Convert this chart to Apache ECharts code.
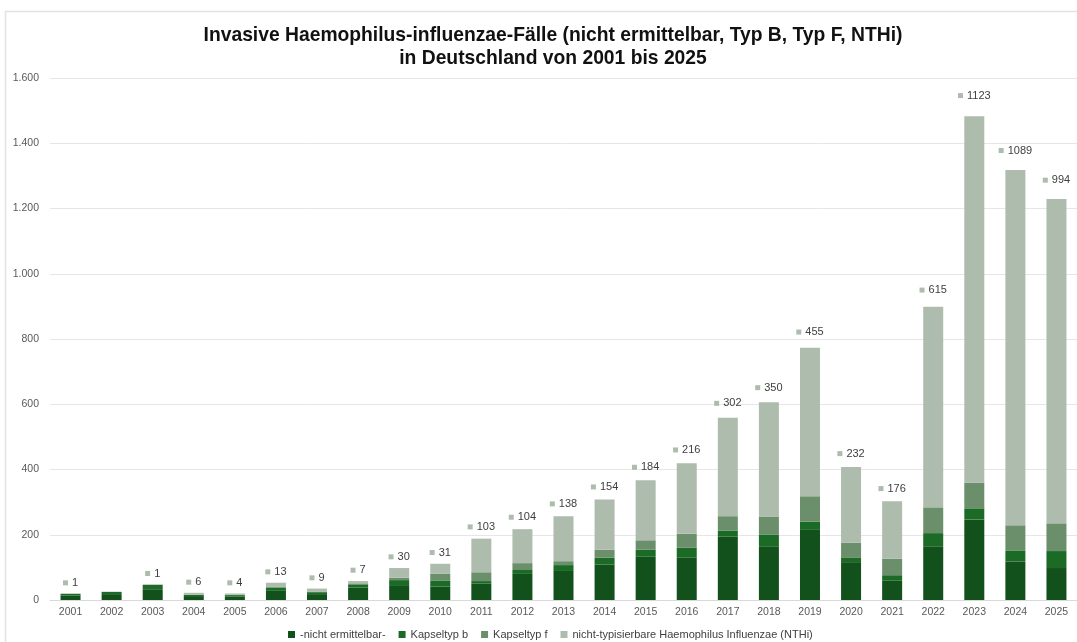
<!DOCTYPE html>
<html>
<head>
<meta charset="utf-8">
<title>Invasive Haemophilus-influenzae-Fälle</title>
<script src="https://cdn.jsdelivr.net/npm/echarts@6/dist/echarts.min.js"></script>
<style>
  html, body { margin: 0; padding: 0; background: #fff; }
  #chart { width: 1077px; height: 642px; }
</style>
</head>
<body>
<div id="chart"></div>
<script>
// Meldejahre
const years = ['2001','2002','2003','2004','2005','2006','2007','2008','2009','2010','2011','2012','2013',
  '2014','2015','2016','2017','2018','2019','2020','2021','2022','2023','2024','2025'];

// Fallzahlen je Kategorie
const nichtErmittelbar = [14, 18, 33, 12, 11, 28, 18, 38, 43, 41, 50, 80, 89, 109, 133, 130, 194, 163, 215, 116, 59, 165, 247, 118, 98];
const kapseltypB       = [5, 7, 13, 4, 4, 10, 6, 10, 18, 19, 8, 12, 18, 21, 21, 30, 18, 38, 25, 13, 17, 40, 34, 34, 52];
const kapseltypF       = [0, 0, 1, 0, 1, 2, 2, 3, 7, 20, 27, 21, 12, 24, 29, 43, 45, 55, 78, 47, 51, 79, 79, 77, 85];
const nthi             = [1, null, 1, 6, 4, 13, 9, 7, 30, 31, 103, 104, 138, 154, 184, 216, 302, 350, 455, 232, 176, 615, 1123, 1089, 994];

// Achsenteilung
const yMax = 1600;
const yStep = 200;

const seriesNames = ['-nicht ermittelbar-', 'Kapseltyp b', 'Kapseltyp f', 'nicht-typisierbare Haemophilus Influenzae (NTHi)'];
const colors = ['#12501c', '#1b6a26', '#6b8e6b', '#aebcad'];

const fmtDE = v => String(v).replace(/\B(?=(\d{3})+(?!\d))/g, '.');

// NTHi-Werte mit Beschriftung über dem Stapel; Abstand wächst leicht mit der Stapelhöhe
const nthiData = nthi.map((v, i) => {
  if (v === null) return '-';
  const total = nichtErmittelbar[i] + kapseltypB[i] + kapseltypF[i] + v;
  return { value: v, label: { distance: 4 + total * 0.0068 } };
});

const chart = echarts.init(document.getElementById('chart'), null, { renderer: 'canvas' });

const baseFont = 'Liberation Sans, Arial, Helvetica, sans-serif';

const stackSeries = [nichtErmittelbar, kapseltypB, kapseltypF].map((arr, i) => ({
  name: seriesNames[i],
  type: 'bar',
  stack: 'faelle',
  barWidth: 20,
  itemStyle: { color: colors[i] },
  data: arr
}));

stackSeries.push({
  name: seriesNames[3],
  type: 'bar',
  stack: 'faelle',
  barWidth: 20,
  itemStyle: { color: colors[3] },
  label: {
    show: true,
    position: 'top',
    formatter: p => '{k| }{s| }{v|' + p.value + '}',
    rich: {
      k: { width: 5, height: 5, lineHeight: 5, fontSize: 5, backgroundColor: colors[3], verticalAlign: 'middle' },
      s: { width: 4, fontSize: 5, verticalAlign: 'middle' },
      v: { fontSize: 11, color: '#404040', fontFamily: baseFont, verticalAlign: 'middle', lineHeight: 13 }
    }
  },
  data: nthiData
});

chart.setOption({
  backgroundColor: '#fff',
  animation: false,
  textStyle: { fontFamily: baseFont },
  graphic: [{
    type: 'rect',
    silent: true,
    shape: { x: 5.5, y: 11.5, width: 1200, height: 800 },
    style: { fill: 'none', stroke: '#e2e2e2', lineWidth: 1.5 }
  }],
  title: {
    text: 'Invasive Haemophilus-influenzae-Fälle (nicht ermittelbar, Typ B, Typ F, NTHi)\nin Deutschland von 2001 bis 2025',
    left: 548,
    textAlign: 'center',
    top: 19.5,
    textStyle: {
      fontSize: 19.3,
      fontWeight: 'bold',
      color: '#111',
      lineHeight: 23,
      fontFamily: baseFont
    }
  },
  legend: {
    bottom: -3,
    left: 283,
    itemWidth: 7,
    itemHeight: 7,
    itemGap: 13,
    icon: 'rect',
    textStyle: { fontSize: 11, color: '#404040', fontFamily: baseFont },
    data: seriesNames
  },
  grid: { left: 50, right: 0, top: 78, bottom: 42, containLabel: false },
  xAxis: {
    type: 'category',
    data: years,
    axisTick: { show: false },
    axisLine: { lineStyle: { color: '#d9d9d9', width: 1 } },
    axisLabel: { fontSize: 10.5, color: '#595959', margin: 7, interval: 0 }
  },
  yAxis: {
    type: 'value',
    min: 0,
    max: yMax,
    interval: yStep,
    axisLine: { show: false },
    axisTick: { show: false },
    splitLine: { lineStyle: { color: '#e6e6e6', width: 1 } },
    axisLabel: { fontSize: 10.5, color: '#595959', margin: 11, formatter: fmtDE }
  },
  series: stackSeries
});
</script>
</body>
</html>
